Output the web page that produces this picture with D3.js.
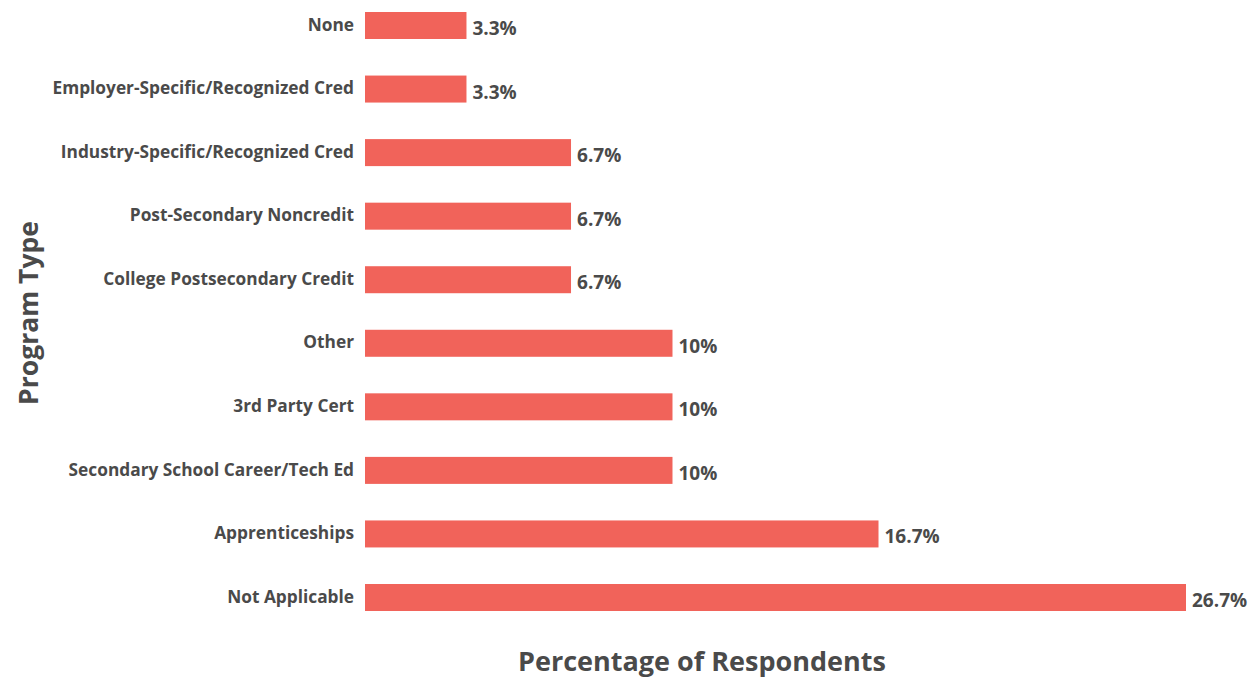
<!DOCTYPE html>
<html>
<head>
    <meta charset="utf-8">
    <script src="https://d3js.org/d3.v7.min.js"></script>
    <style>
        body { margin: 0; background: #fff; }
        text { font-family: "Open Sans", "Lato", sans-serif; font-weight: 700; fill: #4a4a4a; }
    </style>
</head>
<body>
<div id="my_dataviz"></div>
<script>
    // categories, top to bottom
    var categories = [
        "None",
        "Employer-Specific/Recognized Cred",
        "Industry-Specific/Recognized Cred",
        "Post-Secondary Noncredit",
        "College Postsecondary Credit",
        "Other",
        "3rd Party Cert",
        "Secondary School Career/Tech Ed",
        "Apprenticeships",
        "Not Applicable"
    ]
    // percentage of respondents
    var values = [3.3, 3.3, 6.7, 6.7, 6.7, 10, 10, 10, 16.7, 26.7]

    var width = 1258,
        height = 683
    var barH = 27

    var svg = d3.select("#my_dataviz")
        .append("svg")
        .attr("width", width)
        .attr("height", height)

    // x scale: the longest bar ends near x=1186
    var x = d3.scaleLinear()
        .domain([0, 26.7])
        .range([365, 1186])

    // bar centres
    var y = d3.scalePoint()
        .domain(categories)
        .range([25.5, 597.5])

    var fmt = d3.format(".1~f")

    // bars
    svg.selectAll("rect.bar")
        .data(values)
        .enter()
        .append("rect")
        .attr("class", "bar")
        .attr("x", x(0))
        .attr("y", function(d, i) { return y(categories[i]) - barH / 2 })
        .attr("width", function(d) { return x(d) - x(0) })
        .attr("height", barH)
        .attr("fill", "#f1635a")

    // category labels
    svg.selectAll("text.cat")
        .data(categories)
        .enter()
        .append("text")
        .attr("class", "cat")
        .attr("x", 354)
        .attr("y", function(d) { return y(d) })
        .attr("dy", "0.3em")
        .attr("text-anchor", "end")
        .style("font-size", "17.3px")
        .text(function(d) { return d })

    // value labels
    svg.selectAll("text.val")
        .data(values)
        .enter()
        .append("text")
        .attr("class", "val")
        .attr("x", function(d) { return x(d) + 6 })
        .attr("y", function(d, i) { return y(categories[i]) })
        .attr("dy", "0.5em")
        .style("font-size", "19px")
        .text(function(d) { return fmt(d) + "%" })

    // axis titles
    svg.append("text")
        .attr("x", 702)
        .attr("y", 671)
        .attr("text-anchor", "middle")
        .style("font-size", "27px")
        .text("Percentage of Respondents")

    svg.append("text")
        .attr("transform", "translate(38,313) rotate(-90)")
        .attr("text-anchor", "middle")
        .style("font-size", "26.5px")
        .text("Program Type")
</script>
</body>
</html>
